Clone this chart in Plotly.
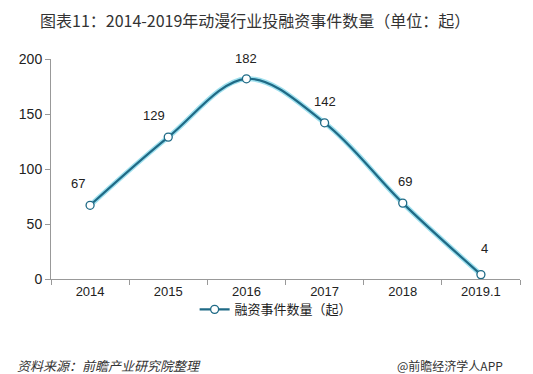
import plotly.graph_objects as go

categories = ["2014", "2015", "2016", "2017", "2018", "2019.1"]
values = [67, 129, 182, 142, 69, 4]
series_name = "融资事件数量（起）"
title_text = "图表11：2014-2019年动漫行业投融资事件数量（单位：起）"
source_text = "资料来源：前瞻产业研究院整理"
brand_text = "@前瞻经济学人APP"
y_ticks = [0, 50, 100, 150, 200]

FONT = "Liberation Sans, Arial, Noto Sans CJK SC, sans-serif"
CJK = "Noto Sans CJK SC, sans-serif"

fig = go.Figure()
# glow underlay
fig.add_trace(go.Scatter(
    x=categories, y=values, mode="lines",
    line=dict(color="#9fe0ee", width=5, shape="spline", smoothing=1.0),
    showlegend=False, hoverinfo="skip"))
fig.add_trace(go.Scatter(
    x=categories, y=values, mode="lines+markers", name=series_name,
    line=dict(color="#1f6a86", width=2.2, shape="spline", smoothing=1.0),
    marker=dict(size=8, color="white", line=dict(color="#1f6a86", width=1.3)),
))

# label offsets (px) per point; x given as category index
xshifts = [-12, -14, 0, 0, 2, 4]
yshifts = [22, 22, 20, 21, 22, 26]
for i, (v, dx, dy) in enumerate(zip(values, xshifts, yshifts)):
    fig.add_annotation(x=i, y=v, text=str(v), showarrow=False,
                       xshift=dx, yshift=dy,
                       font=dict(family=FONT, size=13, color="#222"))

fig.add_annotation(xref="paper", yref="paper", x=0.435, y=1, yshift=39,
                   xanchor="center", yanchor="middle", showarrow=False,
                   text=title_text, font=dict(family=CJK, size=16, color="#333"))
fig.add_annotation(xref="paper", yref="paper", x=-0.077, y=0, yshift=-86,
                   xanchor="left", yanchor="middle", showarrow=False,
                   text="<i>" + source_text + "</i>",
                   font=dict(family=CJK, size=13, color="#333"))
fig.add_annotation(xref="paper", yref="paper", x=0.968, y=0, yshift=-86,
                   xanchor="right", yanchor="middle", showarrow=False,
                   text=brand_text, font=dict(family=CJK, size=12, color="#333"))

# page body has an 8px margin, so the figure is 8px smaller and margins shifted
fig.update_layout(
    width=525, height=366,
    margin=dict(l=43, r=13, t=51, b=95),
    paper_bgcolor="white", plot_bgcolor="white",
    font=dict(family=FONT, size=13, color="#222"),
    showlegend=True,
    legend=dict(orientation="h", x=0.48, xanchor="center", y=-0.07, yanchor="top",
                bgcolor="rgba(0,0,0,0)",
                font=dict(family=CJK, size=13, color="#222")),
    xaxis=dict(type="category", range=[-0.5, len(categories) - 0.5],
               showline=True, linecolor="#999", linewidth=1,
               ticks="outside", tickson="boundaries", ticklen=5, tickcolor="#999",
               showgrid=False, tickfont=dict(size=13, color="#222"), tickangle=0),
    yaxis=dict(range=[0, 200], tickvals=y_ticks, showline=True, linecolor="#999",
               linewidth=1, ticks="outside", ticklen=5, tickcolor="#999",
               showgrid=False, zeroline=False, tickfont=dict(size=14, color="#222")),
)

fig.write_html("out.html")
